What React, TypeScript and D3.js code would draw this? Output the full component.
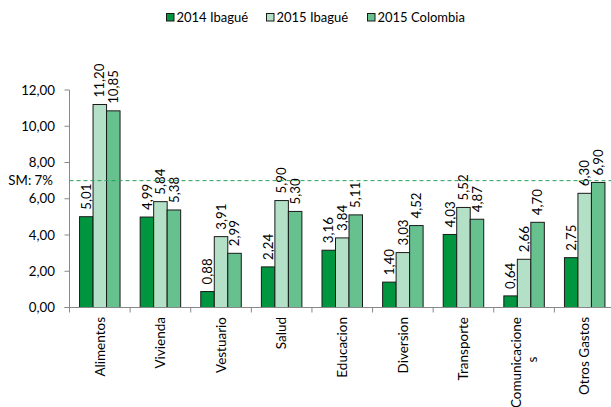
import React from "react";
import * as d3 from "d3";

const categories = ["Alimentos", "Vivienda", "Vestuario", "Salud", "Educacion", "Diversion", "Transporte", "Comunicaciones", "Otros Gastos"];
const categoryLines = [["Alimentos"], ["Vivienda"], ["Vestuario"], ["Salud"], ["Educacion"], ["Diversion"], ["Transporte"], ["Comunicacione", "s"], ["Otros Gastos"]];
const seriesNames = ["2014 Ibagué", "2015 Ibagué", "2015 Colombia"];
const ibague2014 = [5.01, 4.99, 0.88, 2.24, 3.16, 1.4, 4.03, 0.64, 2.75];
const ibague2015 = [11.2, 5.84, 3.91, 5.9, 3.84, 3.03, 5.52, 2.66, 6.3];
const colombia2015 = [10.85, 5.38, 2.99, 5.3, 5.11, 4.52, 4.87, 4.7, 6.9];
const seriesColors = ["#009640", "#b3e0c6", "#66c18e"];
const yTicks = [0, 2, 4, 6, 8, 10, 12];
const smValue = 7;
const smLabel = "SM: 7%";

const W = 611, H = 407;
const FONT = "Lato, 'Open Sans', sans-serif";

export default function App() {
  const series = [ibague2014, ibague2015, colombia2015];
  const left = 69.5, right = 615, bottom = 307.5, top = 90;
  const x0 = d3.scaleBand<string>().domain(categories).range([left, right]).paddingInner(0).paddingOuter(0);
  const x1 = d3.scaleBand<string>().domain(seriesNames).range([0, x0.bandwidth()]).paddingInner(0).paddingOuter(0.745);
  const y = d3.scaleLinear().domain([0, 12]).range([bottom, top]);
  const fmt = (v: number) => v.toFixed(2).replace(".", ",");
  const boundaries = categories.map((c) => x0(c)!).concat([right]);

  const legendX = [166.5, 266.5, 367.5];
  const catFont = 13.5;
  const catTop = 317;

  return (
    <svg width={W} height={H} style={{ position: "fixed", left: 0, top: 0, background: "#fff" }} fontFamily={FONT}>
      <rect x={0} y={0} width={W} height={H} fill="#fff" />
      {/* legend */}
      {seriesNames.map((s, i) => (
        <g key={s}>
          <rect x={legendX[i]} y={13.5} width={7.5} height={7.5} fill={seriesColors[i]} stroke="#1a1a1a" strokeWidth={1} />
          <text x={legendX[i] + 10} y={17.5} dy="0.35em" fontSize={13} fill="#000">{s}</text>
        </g>
      ))}
      {/* bars */}
      {categories.map((c, ci) => (
        <g key={c} transform={`translate(${x0(c)},0)`}>
          {series.map((vals, si) => {
            const bx = x1(seriesNames[si])!;
            const bw = x1.bandwidth();
            const v = vals[ci];
            return (
              <g key={si}>
                <rect x={bx} y={y(v)} width={bw} height={y(0) - y(v)} fill={seriesColors[si]} stroke="#1a1a1a" strokeWidth={1} />
                <text
                  transform={`translate(${bx + bw / 2},${y(v) - 7}) rotate(-90)`}
                  dy="0.35em"
                  fontSize={13.3}
                  fill="#000"
                  textAnchor="start"
                >
                  {fmt(v)}
                </text>
              </g>
            );
          })}
        </g>
      ))}
      {/* y axis */}
      <line x1={left} x2={left} y1={top} y2={bottom} stroke="#888" strokeWidth={1} />
      {yTicks.map((t) => (
        <g key={t}>
          <line x1={left - 5} x2={left} y1={y(t)} y2={y(t)} stroke="#888" strokeWidth={1} />
          <text x={55} y={y(t)} dy="0.35em" textAnchor="end" fontSize={13.3} fill="#000">{fmt(t)}</text>
        </g>
      ))}
      {/* x axis */}
      <line x1={left - 5} x2={W} y1={bottom} y2={bottom} stroke="#888" strokeWidth={1} />
      {boundaries.map((b, i) => (
        <line key={i} x1={b} x2={b} y1={bottom} y2={bottom + 5} stroke="#888" strokeWidth={1} />
      ))}
      {categoryLines.map((lines, ci) => {
        const cx = x0(categories[ci])! + x0.bandwidth() / 2;
        const n = lines.length;
        const lh = 16;
        return lines.map((ln, li) => {
          const lx = cx + (li - (n - 1) / 2) * lh;
          if (li === 0) {
            return (
              <text key={ln} transform={`translate(${lx},${catTop}) rotate(-90)`} dy="0.35em" textAnchor="end" fontSize={catFont} fill="#000">{ln}</text>
            );
          }
          return (
            <text key={ln} transform={`translate(${lx},${catTop + 42.5}) rotate(-90)`} dy="0.35em" textAnchor="middle" fontSize={catFont} fill="#000">{ln}</text>
          );
        });
      })}
      {/* SM line */}
      <line x1={left} x2={W} y1={y(smValue)} y2={y(smValue)} stroke="#2aa05a" strokeWidth={1} strokeDasharray="4,3" />
      <text x={53} y={y(smValue)} dy="0.35em" textAnchor="end" fontSize={13.3} fill="#000">{smLabel}</text>
    </svg>
  );
}
